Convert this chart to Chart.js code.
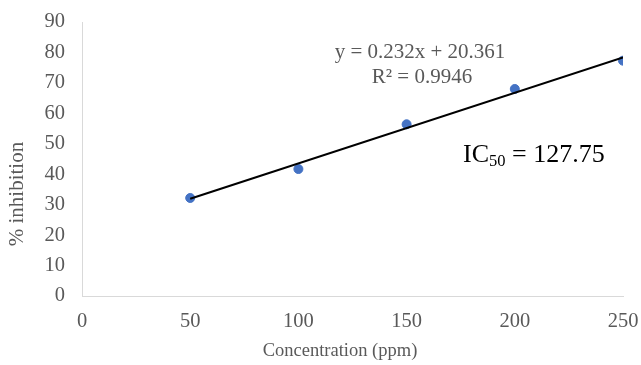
<!DOCTYPE html>
<html>
<head>
<meta charset="utf-8">
<script src="https://cdn.jsdelivr.net/npm/chart.js@4/dist/chart.umd.min.js"></script>
<style>
  html, body { margin: 0; padding: 0; background: #fff; }
  #wrap { width: 641px; height: 365px; }
</style>
</head>
<body>
<div id="wrap"><canvas id="grafico" width="641" height="365"></canvas></div>
<script>
// dados
const concentracao = [50, 100, 150, 200, 250];
const inibicao = [32.2, 41.7, 56.4, 68.0, 77.3];
const trendX = [50, 250];
const trendY = [31.96, 78.36]; // y = 0.232x + 20.361
const xTicks = [0, 50, 100, 150, 200, 250];
const yTicks = [0, 10, 20, 30, 40, 50, 60, 70, 80, 90];

const serif = "'Liberation Serif', 'DejaVu Serif', serif";

// textos da equacao, do IC50 e titulos dos eixos
const textos = {
    id: 'textos',
    afterDraw(chart) {
        const c = chart.ctx;
        c.save();
        c.textBaseline = 'middle';
        c.fillStyle = '#595959';
        c.font = '21px ' + serif;
        c.textAlign = 'center';
        c.fillText('y = 0.232x + 20.361', 420, 52);
        c.fillText('R² = 0.9946', 422, 77);

        // titulo do eixo x (deslocado para a esquerda no original)
        c.font = '18.5px ' + serif;
        c.fillText('Concentration (ppm)', 340, 351);

        // titulo do eixo y (fica abaixo do centro no original)
        c.save();
        c.translate(17, 194);
        c.rotate(-Math.PI / 2);
        c.font = '21px ' + serif;
        c.fillText('% inhibition', 0, 0);
        c.restore();

        c.fillStyle = '#000';
        c.textAlign = 'left';
        c.font = '26px ' + serif;
        let x = 463;
        c.fillText('IC', x, 155);
        x += c.measureText('IC').width;
        c.font = '16.5px ' + serif;
        c.fillText('50', x, 162);
        x += c.measureText('50').width;
        c.font = '26px ' + serif;
        c.fillText(' = 127.75', x, 155);
        c.restore();
    }
};

new Chart(document.getElementById('grafico').getContext('2d'), {
    type: 'scatter',
    data: {
        datasets: [{
            type: 'line',
            label: 'trend',
            data: trendX.map((x, i) => ({ x: x, y: trendY[i] })),
            borderColor: '#000',
            borderWidth: 2,
            pointRadius: 0,
            fill: false
        }, {
            label: '% inhibition',
            data: concentracao.map((x, i) => ({ x: x, y: inibicao[i] })),
            backgroundColor: '#4472C4',
            borderColor: '#4472C4',
            pointRadius: 4.5,
            pointHoverRadius: 4.5
        }]
    },
    options: {
        responsive: false,
        animation: false,
        layout: { padding: { top: 22, right: 18, left: 0, bottom: 0 } },
        plugins: {
            legend: { display: false },
            tooltip: { enabled: false }
        },
        scales: {
            x: {
                type: 'linear',
                min: 0,
                max: 250,
                afterBuildTicks: axis => { axis.ticks = xTicks.map(v => ({ value: v })); },
                afterFit: axis => {
                    axis.height = 69;
                    axis.paddingLeft = 0;
                    axis.paddingRight = 0;
                },
                grid: { display: false, drawTicks: false },
                border: { display: true, color: '#d9d9d9', width: 1 },
                ticks: { color: '#595959', font: { family: serif, size: 20.5 }, padding: 13 },
                title: { display: false }
            },
            y: {
                min: 0,
                max: 90,
                afterBuildTicks: axis => { axis.ticks = yTicks.map(v => ({ value: v })); },
                afterFit: axis => {
                    axis.width = 82;
                    axis.paddingTop = 0;
                    axis.paddingBottom = 0;
                },
                grid: { display: false, drawTicks: false },
                border: { display: true, color: '#d9d9d9', width: 1 },
                ticks: { color: '#595959', font: { family: serif, size: 20.5 }, padding: 17 },
                title: { display: false }
            }
        }
    },
    plugins: [textos]
});
</script>
</body>
</html>
